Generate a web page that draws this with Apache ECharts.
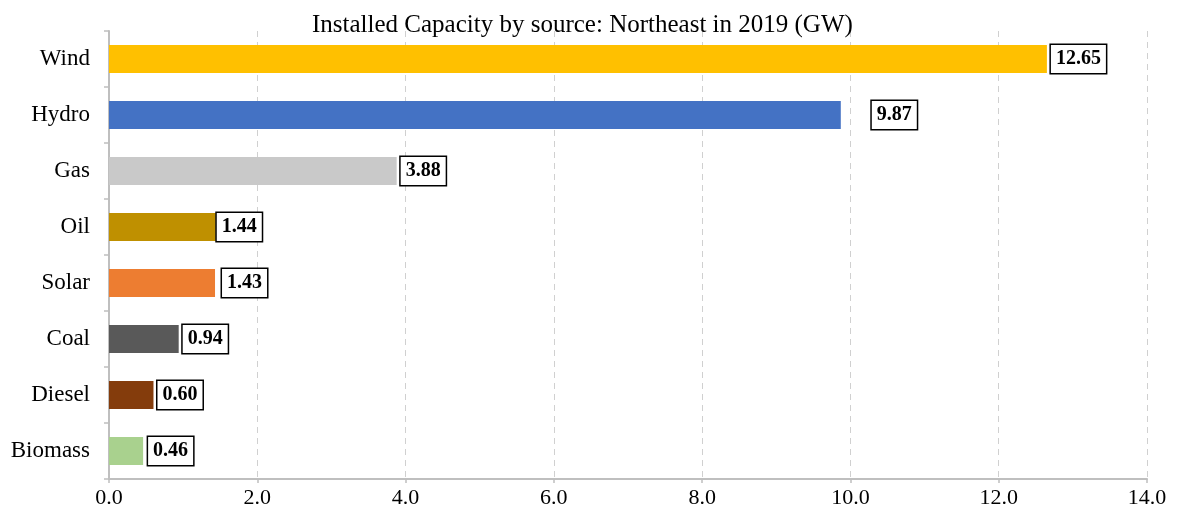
<!DOCTYPE html>
<html>
<head>
<meta charset="utf-8">
<script src="https://cdn.jsdelivr.net/npm/echarts@6/dist/echarts.min.js"></script>
<style>
html,body{margin:0;padding:0;background:#fff;}
#chart{width:1177px;height:512px;}
</style>
</head>
<body>
<div id="chart"></div>
<script>
const categories = ["Wind", "Hydro", "Gas", "Oil", "Solar", "Coal", "Diesel", "Biomass"];
const values = [12.65, 9.87, 3.88, 1.44, 1.43, 0.94, 0.60, 0.46];
const barColors = ["#FFC000", "#4472C4", "#C9C9C9", "#BF9000", "#ED7D31", "#595959", "#843C0C", "#A9D18E"];
const xTicks = [0, 2, 4, 6, 8, 10, 12, 14];
const labelGaps = [4, 31, 4, 1, 7, 4, 4, 5];

const FONT = '"Liberation Serif", "Times New Roman", serif';

const chart = echarts.init(document.getElementById('chart'));
const option = {
  animation: false,
  backgroundColor: '#ffffff',
  title: {
    text: 'Installed Capacity by source: Northeast in 2019 (GW)',
    left: 307,
    top: 8,
    textStyle: { fontFamily: FONT, fontSize: 25, fontWeight: 'normal', color: '#000' }
  },
  grid: { left: 109, right: 30, top: 31, bottom: 33, containLabel: false },
  xAxis: {
    type: 'value',
    min: xTicks[0],
    max: xTicks[xTicks.length - 1],
    interval: 2,
    axisLine: { show: true, lineStyle: { color: '#BFBFBF', width: 2 } },
    axisTick: { show: true, length: 4, lineStyle: { color: '#BFBFBF', width: 1.5 } },
    axisLabel: {
      fontFamily: FONT, fontSize: 22, color: '#000', margin: 8,
      formatter: v => v.toFixed(1)
    },
    splitLine: { show: true, lineStyle: { color: '#D0D0D0', type: [6, 5], width: 1 } }
  },
  yAxis: {
    type: 'category',
    data: categories,
    inverse: true,
    axisLine: { show: true, lineStyle: { color: '#BFBFBF', width: 2 } },
    axisTick: { show: true, length: 5, lineStyle: { color: '#BFBFBF', width: 1.5 } },
    axisLabel: { fontFamily: FONT, fontSize: 23, color: '#000', margin: 19 },
    splitLine: { show: false }
  },
  series: [{
    type: 'bar',
    barWidth: '50%',
    data: values.map((v, i) => ({
      value: v,
      itemStyle: { color: barColors[i] },
      label: { distance: labelGaps[i] }
    })),
    label: {
      show: true,
      position: 'right',
      formatter: p => p.value.toFixed(2),
      fontFamily: FONT,
      fontSize: 20,
      fontWeight: 'bold',
      color: '#000',
      borderColor: '#000',
      borderWidth: 1.5,
      backgroundColor: '#fff',
      padding: [4, 5, 4, 5],
      lineHeight: 20
    }
  }]
};
chart.setOption(option);
</script>
</body>
</html>
